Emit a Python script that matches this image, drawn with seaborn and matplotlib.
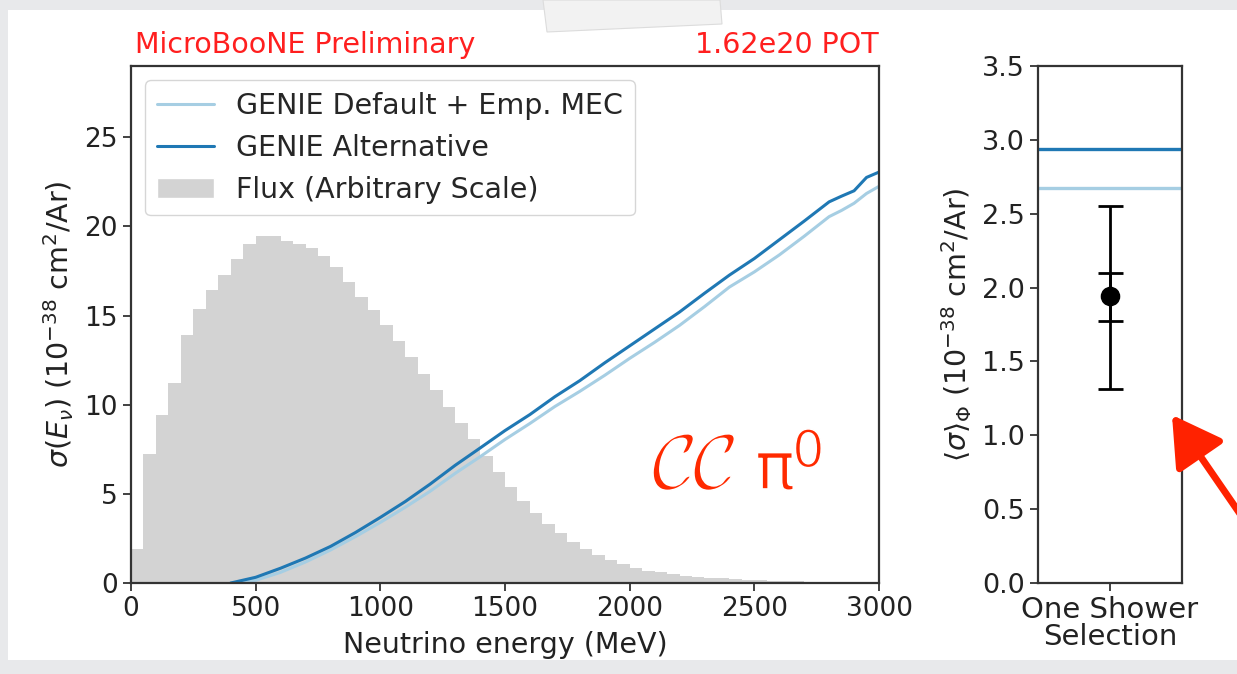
import numpy as np
import pandas as pd
import matplotlib
matplotlib.use("Agg")
import matplotlib.pyplot as plt
import matplotlib.patheffects as pe
import seaborn as sns
from matplotlib.lines import Line2D
from matplotlib.patches import Patch, Rectangle, Polygon

# Flux histogram: 50 MeV bins from 0 to 3000 MeV (arbitrary scale)
flux_edges = np.arange(0, 3001, 50)
flux_height = [1.9, 7.25, 9.4, 11.2, 13.9, 15.35, 16.45, 17.25, 18.2, 19.0,
               19.45, 19.45, 19.2, 19.0, 18.8, 18.35, 17.7, 16.9, 16.05, 15.3,
               14.5, 13.6, 12.65, 11.75, 10.85, 9.9, 9.0, 8.1, 7.15, 6.25,
               5.4, 4.6, 3.95, 3.3, 2.8, 2.3, 1.9, 1.56, 1.27, 1.04,
               0.83, 0.70, 0.59, 0.49, 0.42, 0.36, 0.30, 0.27, 0.23, 0.19,
               0.16, 0.14, 0.12, 0.10, 0.08, 0.07, 0.06, 0.05, 0.04, 0.03]

# Cross section curves (1e-38 cm^2/Ar)
energy = [400, 500, 600, 700, 800, 900, 1000, 1100, 1200, 1300, 1400, 1500, 1600, 1700,
          1800, 1900, 2000, 2100, 2200, 2300, 2400, 2500, 2600, 2700, 2800, 2850, 2900,
          2950, 3000]
xs_alternative = [0.0, 0.32, 0.83, 1.4, 2.05, 2.83, 3.68, 4.57, 5.55, 6.6, 7.57, 8.55, 9.45,
                  10.45, 11.35, 12.35, 13.3, 14.25, 15.2, 16.25, 17.27, 18.2, 19.25, 20.3,
                  21.38, 21.7, 22.0, 22.75, 23.05]
xs_default = [0.0, 0.15, 0.6, 1.18, 1.85, 2.6, 3.4, 4.25, 5.15, 6.15, 7.08, 8.05, 8.95,
              9.9, 10.75, 11.65, 12.6, 13.5, 14.45, 15.5, 16.6, 17.45, 18.4, 19.45,
              20.55, 20.9, 21.3, 21.85, 22.25]

# Flux-averaged cross sections (right panel)
selection = ["One Shower\nSelection"]
avg_alternative = 2.935
avg_default = 2.675
measured = 1.94
stat_err = [0.165, 0.16]   # low, high
total_err = [0.63, 0.61]   # low, high

light_blue, dark_blue = sns.color_palette("Paired")[0], sns.color_palette("Paired")[1]
red = "#ff1f1f"
note_red = "#ff2a00"

sns.set_style("white")
plt.rcParams["font.family"] = ["DejaVu Sans"]
plt.rcParams["mathtext.fontset"] = "dejavusans"

fig = plt.figure(figsize=(12.37, 6.74), dpi=100, facecolor="#e8e9eb")
# slide card behind the chart
fig.patches.append(Rectangle((8 / 1237, 14 / 674), 1 - 8 / 1237, 650 / 674,
                             transform=fig.transFigure, facecolor="white", edgecolor="none", zorder=-10))
fig.patches.append(Polygon([(543 / 1237, 1), (720 / 1237, 1), (722 / 1237, 1 - 24 / 674), (547 / 1237, 1 - 32 / 674)],
                           closed=True, transform=fig.transFigure, facecolor="#f2f2f2",
                           edgecolor="#dcdcdc", lw=0.8, zorder=-5))

ax = fig.add_axes([131 / 1237, 1 - 583 / 674, 748 / 1237, 517 / 674])
ax2 = fig.add_axes([1038 / 1237, 1 - 583 / 674, 144 / 1237, 517 / 674])

flux_df = pd.DataFrame({"energy": (flux_edges[:-1] + flux_edges[1:]) / 2, "flux": flux_height})
sns.histplot(data=flux_df, x="energy", weights="flux", binwidth=50, binrange=(0, 3000),
             color="#d3d3d3", alpha=1, linewidth=0, edgecolor="none", ax=ax)
sns.lineplot(x=energy, y=xs_default, color=light_blue, lw=2.2, ax=ax)
sns.lineplot(x=energy, y=xs_alternative, color=dark_blue, lw=2.2, ax=ax)

ax.set_xlim(0, 3000)
ax.set_ylim(0, 29)
ax.set_xticks(range(0, 3001, 500))
ax.set_yticks(range(0, 26, 5))
ax.set_xlabel("Neutrino energy (MeV)", fontsize=20.5, labelpad=6)
ax.set_ylabel(r"$\sigma(E_\nu)$ ($10^{-38}$ cm$^2$/Ar)", fontsize=20.5, labelpad=6)

handles = [Line2D([], [], color=light_blue, lw=2.2, label="GENIE Default + Emp. MEC"),
           Line2D([], [], color=dark_blue, lw=2.2, label="GENIE Alternative"),
           Patch(facecolor="#d3d3d3", label="Flux (Arbitrary Scale)")]
ax.legend(handles=handles, loc="upper left", fontsize=20.5, frameon=True,
          framealpha=0.8, edgecolor="#cccccc", handlelength=2.0, borderaxespad=0.5,
          labelspacing=0.5)

ax.text(0.005, 1.025, "MicroBooNE Preliminary", transform=ax.transAxes, color=red,
        fontsize=20.5, ha="left", va="baseline")
ax.text(1.0, 1.025, "1.62e20 POT", transform=ax.transAxes, color=red,
        fontsize=20.5, ha="right", va="baseline")

# right panel
ax2.axhline(avg_alternative, color=dark_blue, lw=2.4)
ax2.axhline(avg_default, color=light_blue, lw=2.4)
ax2.errorbar([0], [measured], yerr=[[total_err[0]], [total_err[1]]], fmt="none",
             ecolor="black", elinewidth=2, capsize=9, capthick=2)
ax2.errorbar([0], [measured], yerr=[[stat_err[0]], [stat_err[1]]], fmt="none",
             ecolor="black", elinewidth=2, capsize=9, capthick=2)
sns.scatterplot(x=[0], y=[measured], color="black", s=170, edgecolor="black", zorder=5, ax=ax2)
ax2.set_xlim(-0.5, 0.5)
ax2.set_ylim(0, 3.5)
ax2.set_xticks([0])
ax2.set_yticks(np.arange(0, 3.51, 0.5))
ax2.set_yticklabels([f"{v:.1f}" for v in np.arange(0, 3.51, 0.5)])
ax2.set_ylabel(r"$\langle\sigma\rangle_\Phi$ ($10^{-38}$ cm$^2$/Ar)", fontsize=20.5, labelpad=6)

for a in (ax, ax2):
    for s in a.spines.values():
        s.set_color("#333333")
        s.set_linewidth(1.6)
    a.tick_params(axis="both", labelsize=19, length=6, width=1.3, color="#333333",
                  labelcolor="#222222", direction="out", bottom=True, left=True)
    a.xaxis.label.set_color("#222222")
    a.yaxis.label.set_color("#222222")
ax2.set_xticklabels(selection, fontsize=21, linespacing=0.95)
ax2.tick_params(axis="y", labelsize=19.5)

# handwritten note (strokes thinned with a white outline) and arrow
thin = [pe.Normal(), pe.Stroke(linewidth=1.2, foreground="white")]
fig.text(652 / 1237, 1 - 489 / 674, r"$\mathcal{CC}$", color=note_red,
         fontsize=56, ha="left", va="baseline", math_fontfamily="cm", path_effects=thin)
fig.text(755 / 1237, 1 - 489 / 674, "π", color=note_red,
         fontsize=48, ha="left", va="baseline", path_effects=thin)
fig.text(792 / 1237, 1 - 467 / 674, "0", color=note_red,
         fontsize=37, ha="left", va="baseline", path_effects=thin)
ax2.annotate("", xy=(1172, 674 - 415), xycoords="figure pixels",
             xytext=(1258, 674 - 540), textcoords="figure pixels",
             arrowprops=dict(arrowstyle="-|>,head_length=1.2,head_width=0.7", lw=5,
                             mutation_scale=25, color="#ff2200", shrinkA=0, shrinkB=0),
             annotation_clip=False)

fig.savefig("out.png", dpi=100, facecolor=fig.get_facecolor())
